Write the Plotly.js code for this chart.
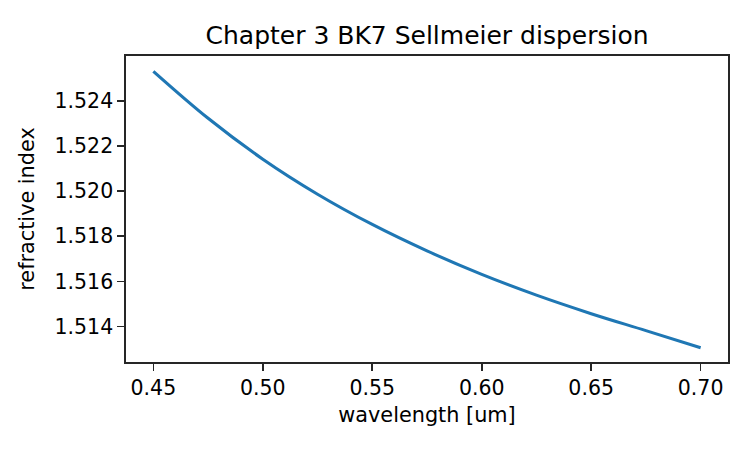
<!DOCTYPE html>
<html>
<head>
<meta charset="utf-8">
<script src="https://cdn.plot.ly/plotly-3.0.1.min.js"></script>
<style>html,body{margin:0;padding:0;background:#fff;}#chart{width:750px;height:450px;}</style>
</head>
<body>
<div id="chart"></div>
<script>
const wavelength = [0.450, 0.475, 0.500, 0.525, 0.550, 0.575, 0.600, 0.625, 0.650, 0.675, 0.700];
const refractiveIndex = [1.52530, 1.52322, 1.52141, 1.51986, 1.51852, 1.51735, 1.51631, 1.51539, 1.51457, 1.51382, 1.51306];
const xTicks = [0.45, 0.50, 0.55, 0.60, 0.65, 0.70];
const xTickText = ["0.45", "0.50", "0.55", "0.60", "0.65", "0.70"];
const yTicks = [1.514, 1.516, 1.518, 1.520, 1.522, 1.524];
const yTickText = ["1.514", "1.516", "1.518", "1.520", "1.522", "1.524"];

const font = "DejaVu Sans, Liberation Sans, sans-serif";
const trace = {
  x: wavelength, y: refractiveIndex, type: "scatter", mode: "lines",
  line: {color: "#1f77b4", width: 3.1, shape: "spline", smoothing: 1},
  hoverinfo: "skip"
};
const axisCommon = {
  showgrid: false, zeroline: false, showline: true, mirror: true,
  linecolor: "#262626", linewidth: 1.7, ticks: "outside", ticklen: 7,
  tickwidth: 1.7, tickcolor: "#262626",
  tickfont: {family: font, size: 20.5, color: "#000"}
};
const layout = {
  width: 750, height: 450,
  margin: {l: 126, r: 22, t: 56, b: 88},
  paper_bgcolor: "#fff", plot_bgcolor: "#fff",
  showlegend: false,
  title: {text: "Chapter 3 BK7 Sellmeier dispersion", font: {family: font, size: 25, color: "#000"},
          x: 0.5694, xanchor: "center", xref: "container", y: 1 - 35/450, yanchor: "middle", yref: "container"},
  xaxis: Object.assign({}, axisCommon, {
    range: [0.4375, 0.7125], tickvals: xTicks, ticktext: xTickText,
    title: {text: "wavelength [um]", font: {family: font, size: 20.8, color: "#000"}, standoff: 8}
  }),
  yaxis: Object.assign({}, axisCommon, {
    range: [1.51243, 1.52598], tickvals: yTicks, ticktext: yTickText,
    title: {text: "refractive index", font: {family: font, size: 20.8, color: "#000"}, standoff: 14}
  })
};
Plotly.newPlot("chart", [trace], layout, {displayModeBar: false, staticPlot: true});
</script>
</body>
</html>
